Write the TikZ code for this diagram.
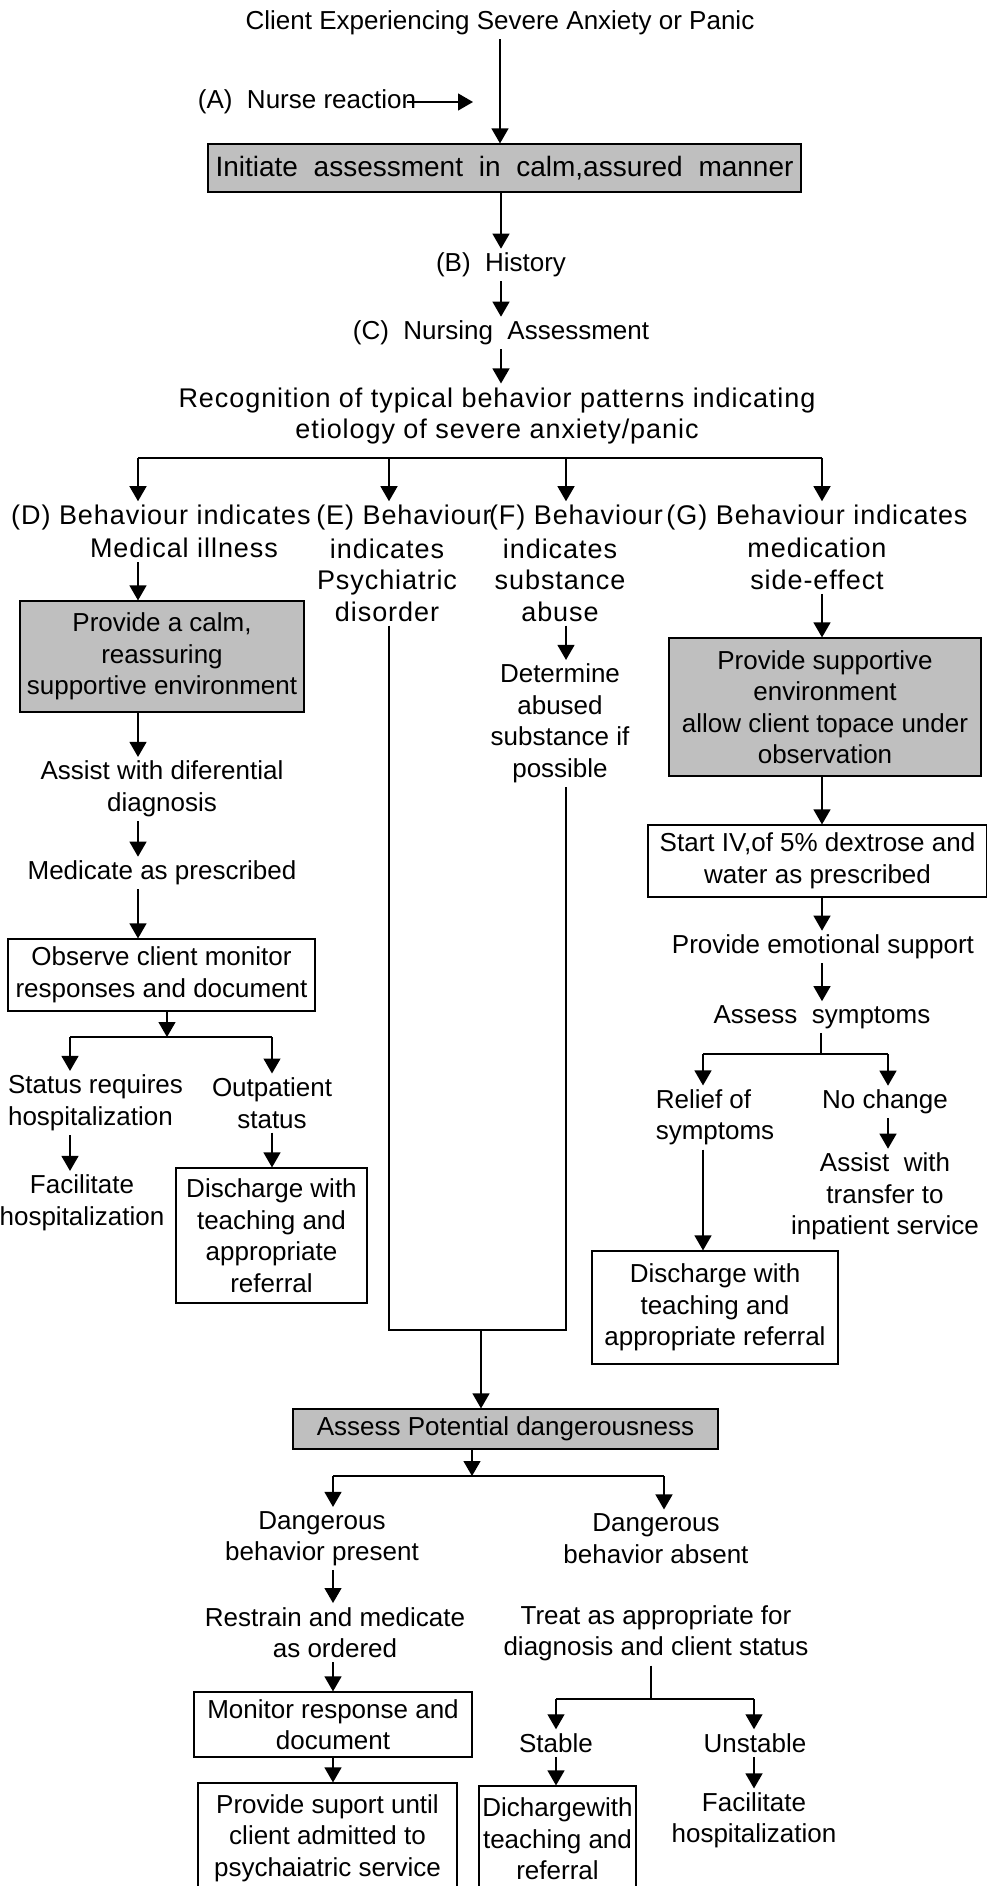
\documentclass[tikz,border=0pt]{standalone}
\usepackage{fontspec}
\setmainfont{Liberation Sans}
\newfontfamily\widesf[LetterSpace=3.5]{Liberation Sans}
\usetikzlibrary{arrows.meta}
\tikzset{
  txt/.style={font=\fontsize{26}{31.5}\selectfont, align=center, inner sep=4pt},
  wtxt/.style={font=\widesf\fontsize{27}{31.5}\selectfont, align=center, inner sep=4pt},
  box/.style={txt, draw, line width=1.2pt, inner sep=0pt},
  gbox/.style={box, fill=gray!50},
  link/.style={line width=1.3pt},
  arr/.style={link, -{Triangle[length=15pt,width=17pt]}}
}
\begin{document}
\begin{tikzpicture}[x=1pt,y=-1pt]
  \useasboundingbox (0,0) rectangle (987,1886);

  \node[txt] (title) at (500,23) {Client Experiencing Severe Anxiety or Panic};
  \node[txt] (nurse) at (307,102) {(A)~~Nurse reaction};
  \coordinate (nurseend) at (473,0);
  \node[gbox, minimum width=593pt, minimum height=48pt, font=\fontsize{28}{32}\selectfont] (init) at (504.5,168)
    {\makebox[578pt][s]{Initiate assessment in calm,assured manner}};
  \node[txt] (hist) at (501,265) {(B)~~History};
  \node[txt] (nass) at (501,333) {(C)~~Nursing~~Assessment};
  \node[wtxt] (recog) at (497,416) {Recognition of typical behavior patterns indicating\\etiology of severe anxiety/panic};

  \draw[arr] (title.south) -- (title.south |- init.north);
  \draw[arr] ([xshift=-13pt]nurse.east) -- (nurse.east -| nurseend);
  \draw[arr] (init.south -| hist) -- (hist.north);
  \draw[arr] (hist.south) -- (hist.south |- nass.north);
  \draw[arr] (nass.south) -- (nass.south |- recog.north);

  % four behaviour branches
  \node[wtxt] (dhead) at (161,518) {(D)~Behaviour indicates};
  \node[wtxt] (ehead) at (404,518) {(E)~Behaviour};
  \node[wtxt] (fhead) at (576,518) {(F)~Behaviour};
  \node[wtxt] (ghead) at (817,518) {(G)~Behaviour indicates};
  \node[wtxt] (dbody) at (184,548) {Medical illness};
  \node[wtxt] (ebody) at (387,580) {indicates\\Psychiatric\\disorder};
  \node[wtxt] (fbody) at (560,580) {indicates\\substance\\abuse};
  \node[wtxt] (gbody) at (817,564) {medication\\side-effect};

  \coordinate (dcol) at (138,0);
  \coordinate (ecol) at (389,0);
  \coordinate (fcol) at (566,0);
  \coordinate (gcol) at (822,0);
  \coordinate (bar) at (0,458);
  \draw[link] (bar -| dcol) -- (bar -| gcol);
  \foreach \c/\n in {dcol/dhead,ecol/ehead,fcol/fhead,gcol/ghead}
    \draw[arr] (bar -| \c) -- (\n.north -| \c);

  % medical illness
  \node[gbox, minimum width=284pt, minimum height=111pt] (dcalm) at (162,656.5) {Provide a calm,\\reassuring\\supportive environment};
  \node[txt] (ddiff) at (162,789) {Assist with diferential\\diagnosis};
  \node[txt] (dmed) at (162,873) {Medicate as prescribed};
  \node[box, minimum width=307pt, minimum height=72pt] (dobs) at (161.5,975) {Observe client monitor\\responses and document};
  \coordinate (djoin) at (167,1037);
  \coordinate (dleft) at (70,0);
  \node[txt, align=left] (dhosp) at (95.5,1103) {Status requires\\hospitalization};
  \node[txt] (dout) at (272,1103) {Outpatient\\status};
  \node[txt] (dfac) at (82,1203) {Facilitate\\hospitalization};
  \node[box, minimum width=191pt, minimum height=135pt] (ddis) at (271.5,1235.5) {Discharge with\\teaching and\\appropriate\\referral};

  \draw[arr] (dbody.south -| dcol) -- (dcalm.north -| dcol);
  \draw[arr] (dcalm.south -| dcol) -- (ddiff.north -| dcol);
  \draw[arr] (ddiff.south -| dcol) -- (dmed.north -| dcol);
  \draw[arr] (dmed.south -| dcol) -- (dobs.north -| dcol);
  \draw[arr] (dobs.south -| djoin) -- (djoin);
  \draw[link] (djoin -| dleft) -- (djoin -| dout);
  \draw[arr] (djoin -| dleft) -- (dhosp.north -| dleft);
  \draw[arr] (djoin -| dout) -- (dout.north);
  \draw[arr] (dhosp.south -| dleft) -- (dfac.north -| dleft);
  \draw[arr] (dout.south) -- (ddis.north -| dout);

  % substance abuse
  \node[txt] (fdet) at (560,723.5) {Determine\\abused\\substance if\\possible};
  \draw[arr] (fbody.south -| fcol) -- (fdet.north -| fcol);

  % medication side-effect
  \node[gbox, minimum width=312pt, minimum height=138pt] (gprov) at (825,707) {Provide supportive\\environment\\allow client topace under\\observation};
  \node[box, minimum width=339pt, minimum height=72pt] (giv) at (817.5,861) {Start IV,of 5\% dextrose and\\water as prescribed};
  \node[txt] (gemo) at (823,947) {Provide emotional support};
  \node[txt] (gsym) at (822,1017) {Assess~~symptoms};
  \coordinate (gjoin) at (821,1054);
  \coordinate (grelcol) at (703,0);
  \coordinate (gnocol) at (888,0);
  \node[txt, align=left] (grel) at (715,1117.5) {Relief of\\symptoms};
  \node[txt] (gno) at (885,1102) {No change};
  \node[txt] (gass) at (885,1196.5) {Assist~ with\\transfer to\\inpatient service};
  \node[box, minimum width=246pt, minimum height=113pt] (gdis) at (715,1307.5) {Discharge with\\teaching and\\appropriate referral};

  \draw[arr] (gbody.south -| gcol) -- (gprov.north -| gcol);
  \draw[arr] (gprov.south -| gcol) -- (giv.north -| gcol);
  \draw[arr] (giv.south -| gcol) -- (gemo.north -| gcol);
  \draw[arr] (gemo.south -| gcol) -- (gsym.north -| gcol);
  \draw[link] (gsym.south -| gjoin) -- (gjoin);
  \draw[link] (gjoin -| grelcol) -- (gjoin -| gnocol);
  \draw[arr] (gjoin -| grelcol) -- (grel.north -| grelcol);
  \draw[arr] (gjoin -| gnocol) -- (gno.north -| gnocol);
  \draw[arr] (gno.south -| gnocol) -- (gass.north -| gnocol);
  \draw[arr] (grel.south -| grelcol) -- (gdis.north -| grelcol);

  % psychiatric disorder and substance abuse meet
  \coordinate (merge) at (481,1330);
  \node[gbox, minimum width=425pt, minimum height=40pt] (danger) at (505.5,1429) {Assess Potential dangerousness};
  \draw[link] (ebody.south -| ecol) |- (merge) -| (fdet.south -| fcol);
  \draw[arr] (merge) -- (danger.north -| merge);

  \coordinate (dangjoin) at (472,1476);
  \coordinate (pcol) at (333,0);
  \coordinate (acol) at (664,0);
  \node[txt] (dpres) at (322,1538.5) {Dangerous\\behavior present};
  \node[txt] (dabs) at (656,1538.5) {Dangerous\\behavior absent};
  \draw[arr] (danger.south -| dangjoin) -- (dangjoin);
  \draw[link] (dangjoin -| pcol) -- (dangjoin -| acol);
  \draw[arr] (dangjoin -| pcol) -- (dpres.north -| pcol);
  \draw[arr] (dangjoin -| acol) -- (dabs.north -| acol);

  \node[txt] (restr) at (335,1632.5) {Restrain and medicate\\as ordered};
  \node[box, minimum width=278pt, minimum height=65pt] (mon) at (333,1724.5) {Monitor response and\\document};
  \node[box, minimum width=259pt, minimum height=110pt] (prov) at (327.5,1838) {Provide suport until\\client admitted to\\psychaiatric service};
  \draw[arr] (dpres.south -| pcol) -- (restr.north -| pcol);
  \draw[arr] (restr.south -| pcol) -- (mon.north -| pcol);
  \draw[arr] (mon.south -| pcol) -- (prov.north -| pcol);

  \node[txt] (treat) at (656,1633.5) {Treat as appropriate for\\diagnosis and client status};
  \coordinate (tjoin) at (651,1699);
  \coordinate (scol) at (556,0);
  \coordinate (ucol) at (754,0);
  \node[txt] (stable) at (556,1743) {Stable};
  \node[txt] (unstable) at (755,1743) {Unstable};
  \node[box, minimum width=157pt, minimum height=106pt] (sdis) at (557.5,1839) {Dichargewith\\teaching and\\referral};
  \node[txt] (ufac) at (754,1820.5) {Facilitate\\hospitalization};
  \draw[link] (treat.south -| tjoin) -- (tjoin);
  \draw[link] (tjoin -| scol) -- (tjoin -| ucol);
  \draw[arr] (tjoin -| scol) -- (stable.north -| scol);
  \draw[arr] (tjoin -| ucol) -- (unstable.north -| ucol);
  \draw[arr] (stable.south -| scol) -- (sdis.north -| scol);
  \draw[arr] (unstable.south -| ucol) -- (ufac.north -| ucol);
\end{tikzpicture}
\end{document}
